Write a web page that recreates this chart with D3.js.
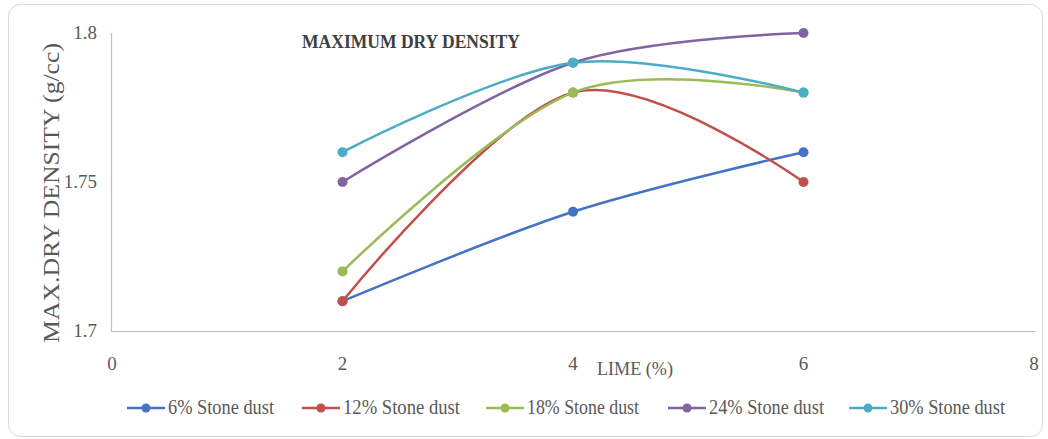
<!DOCTYPE html>
<html><head><meta charset="utf-8">
<script src="https://cdn.jsdelivr.net/npm/d3@7"></script>
<style>html,body{margin:0;padding:0;background:#fff;}svg{display:block;}</style>
</head><body>
<svg id="chart" width="1048" height="439"></svg>
<script>
const limeValues = [2, 4, 6];
const seriesNames = ["6% Stone dust", "12% Stone dust", "18% Stone dust", "24% Stone dust", "30% Stone dust"];
const stone6 = [1.71, 1.74, 1.76];
const stone12 = [1.71, 1.78, 1.75];
const stone18 = [1.72, 1.78, 1.78];
const stone24 = [1.75, 1.79, 1.80];
const stone30 = [1.76, 1.79, 1.78];
const seriesColors = ["#4472C4", "#C0504D", "#9BBB59", "#8064A2", "#4BACC6"];
const xTicks = [0, 2, 4, 6, 8];
const yTicks = [1.7, 1.75, 1.8];
const yTickLabels = ["1.7", "1.75", "1.8"];

const allSeries = [stone6, stone12, stone18, stone24, stone30];
const svg = d3.select("#chart");
const font = "'Liberation Serif', 'Times New Roman', serif";

svg.append("rect").attr("x", 8.5).attr("y", 4.5).attr("width", 1034).attr("height", 432)
  .attr("rx", 12).attr("fill", "#fff").attr("stroke", "#d9d9d9").attr("stroke-width", 1);

const x = d3.scaleLinear().domain([0, 8]).range([112, 1034]);
const y = d3.scaleLinear().domain([1.7, 1.8]).range([331, 33]);

// axes lines
svg.append("line").attr("x1", 111.5).attr("x2", 111.5).attr("y1", 33).attr("y2", 331.5)
  .attr("stroke", "#bfbfbf").attr("stroke-width", 1.2);
svg.append("line").attr("x1", 111).attr("x2", 1035).attr("y1", 331.5).attr("y2", 331.5)
  .attr("stroke", "#bfbfbf").attr("stroke-width", 1.2);

// y tick labels
svg.selectAll(".ylab").data(yTicks).enter().append("text")
  .attr("x", 97).attr("y", d => y(d) + 6)
  .attr("text-anchor", "end").attr("font-family", font).attr("font-size", 19)
  .attr("fill", "#595959").text((d, i) => yTickLabels[i]);

// x tick labels
svg.selectAll(".xlab").data(xTicks).enter().append("text")
  .attr("x", d => x(d)).attr("y", 370)
  .attr("text-anchor", "middle").attr("font-family", font).attr("font-size", 19)
  .attr("fill", "#595959").text(d => d);

// x axis title
svg.append("text").attr("x", 597).attr("y", 375)
  .attr("font-family", font).attr("font-size", 19).attr("fill", "#595959")
  .attr("textLength", 76).attr("lengthAdjust", "spacingAndGlyphs").text("LIME (%)");

// y axis title
svg.append("text").attr("transform", "translate(59,193) rotate(-90)")
  .attr("text-anchor", "middle").attr("font-family", font).attr("font-size", 23)
  .attr("fill", "#595959").attr("textLength", 300).attr("lengthAdjust", "spacingAndGlyphs")
  .text("MAX.DRY DENSITY (g/cc)");

// title
svg.append("text").attr("x", 302).attr("y", 48)
  .attr("font-family", font).attr("font-size", 18).attr("font-weight", "bold")
  .attr("fill", "#404040").attr("textLength", 218).attr("lengthAdjust", "spacingAndGlyphs")
  .text("MAXIMUM DRY DENSITY");

const line = d3.line().x(d => x(d[0])).y(d => y(d[1])).curve(d3.curveCatmullRom.alpha(0));

allSeries.forEach((vals, i) => {
  const pts = limeValues.map((l, j) => [l, vals[j]]);
  const g = svg.append("g");
  g.append("path").attr("d", line(pts)).attr("fill", "none")
    .attr("stroke", seriesColors[i]).attr("stroke-width", 2.5);
  g.selectAll("circle").data(pts).enter().append("circle")
    .attr("cx", d => x(d[0])).attr("cy", d => y(d[1])).attr("r", 5)
    .attr("fill", seriesColors[i]);
});

// legend
const legendX = [127, 302, 486, 668, 849];
const legendW = [106, 117, 112, 115, 115];
seriesNames.forEach((name, i) => {
  const lx = legendX[i], ly = 408;
  svg.append("line").attr("x1", lx).attr("x2", lx + 38).attr("y1", ly).attr("y2", ly)
    .attr("stroke", seriesColors[i]).attr("stroke-width", 2.5);
  svg.append("circle").attr("cx", lx + 19).attr("cy", ly).attr("r", 4.5).attr("fill", seriesColors[i]);
  svg.append("text").attr("x", lx + 41).attr("y", ly + 6)
    .attr("font-family", font).attr("font-size", 20).attr("fill", "#595959")
    .attr("textLength", legendW[i]).attr("lengthAdjust", "spacingAndGlyphs").text(name);
});
</script>
</body></html>
